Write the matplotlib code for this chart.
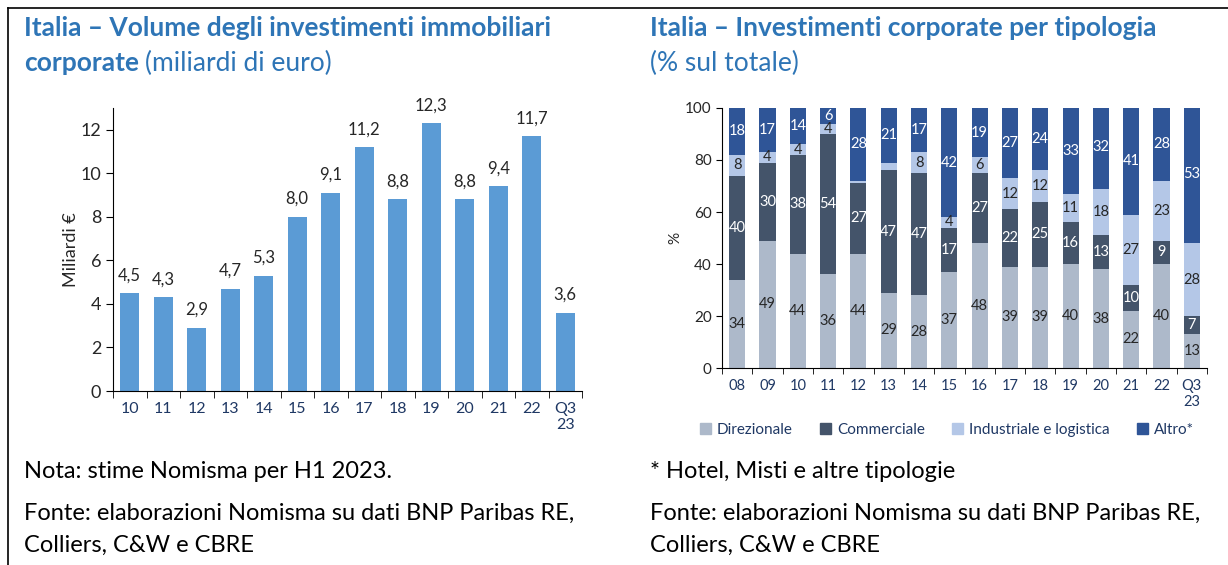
import matplotlib.pyplot as plt
import numpy as np
from matplotlib.patches import Patch
from matplotlib.lines import Line2D

plt.rcParams['font.family'] = ['Lato', 'DejaVu Sans']

# left chart data
anni_vol = ["10", "11", "12", "13", "14", "15", "16", "17", "18", "19", "20", "21", "22", "Q3\n23"]
volume = [4.5, 4.3, 2.9, 4.7, 5.3, 8.0, 9.1, 11.2, 8.8, 12.3, 8.8, 9.4, 11.7, 3.6]

# right chart data (% sul totale)
anni_tip = ["08", "09", "10", "11", "12", "13", "14", "15", "16", "17", "18", "19", "20", "21", "22", "Q3\n23"]
direzionale = [34, 49, 44, 36, 44, 29, 28, 37, 48, 39, 39, 40, 38, 22, 40, 13]
commerciale = [40, 30, 38, 54, 27, 47, 47, 17, 27, 22, 25, 16, 13, 10, 9, 7]
industriale = [8, 4, 4, 4, 1, 3, 8, 4, 6, 12, 12, 11, 18, 27, 23, 28]
altro = [18, 17, 14, 6, 28, 21, 17, 42, 19, 27, 24, 33, 32, 41, 28, 53]
serie_nomi = ["Direzionale", "Commerciale", "Industriale e logistica", "Altro*"]
serie_colori = ["#adb9ca", "#44546a", "#b4c7e7", "#2f5597"]
label_colori = ["#262626", "white", "#262626", "white"]

blu_titolo = "#2e75b6"
tick_col = "#1f3864"

fig = plt.figure(figsize=(12.28, 5.65), dpi=100)

# frame lines (left and top)
fig.add_artist(Line2D([8/1228, 8/1228], [0, 1 - 8/565], color="black", lw=1.2))
fig.add_artist(Line2D([8/1228, 1], [1 - 8/565, 1 - 8/565], color="black", lw=1.2))

# titles
fs_tit = 19
fig.text(24/1228, 1 - 28/565, "Italia – Volume degli investimenti immobiliari", color=blu_titolo,
         fontsize=fs_tit, fontweight="bold", va="center")
t = fig.text(24/1228, 1 - 63/565, "corporate", color=blu_titolo, fontsize=fs_tit, fontweight="bold", va="center")
fig.canvas.draw()
bb = t.get_window_extent()
fig.text(bb.x1/1228 + 0.005, 1 - 63/565, "(miliardi di euro)", color=blu_titolo, fontsize=fs_tit, va="center")

fig.text(650/1228, 1 - 28/565, "Italia – Investimenti corporate per tipologia", color=blu_titolo,
         fontsize=fs_tit, fontweight="bold", va="center")
fig.text(650/1228, 1 - 63/565, "(% sul totale)", color=blu_titolo, fontsize=fs_tit, va="center")

# notes
fs_n = 17
fig.text(24/1228, 1 - 472/565, "Nota: stime Nomisma per H1 2023.", fontsize=fs_n, va="center")
fig.text(24/1228, 1 - 513/565, "Fonte: elaborazioni Nomisma su dati BNP Paribas RE,", fontsize=fs_n, va="center")
fig.text(24/1228, 1 - 545/565, "Colliers, C&W e CBRE", fontsize=fs_n, va="center")
fig.text(650/1228, 1 - 472/565, "* Hotel, Misti e altre tipologie", fontsize=fs_n, va="center")
fig.text(650/1228, 1 - 513/565, "Fonte: elaborazioni Nomisma su dati BNP Paribas RE,", fontsize=fs_n, va="center")
fig.text(650/1228, 1 - 545/565, "Colliers, C&W e CBRE", fontsize=fs_n, va="center")

# left chart
ax1 = fig.add_axes([113/1228, 1 - 391/565, 469/1228, 283/565])
x1 = np.arange(len(volume))
ax1.bar(x1, volume, width=0.57, color="#5b9bd5")
for xi, v in zip(x1, volume):
    ax1.text(xi, v + 0.45, f"{v:.1f}".replace(".", ","), ha="center", va="bottom", fontsize=12, color="#262626")
ax1.set_xlim(-0.5, len(volume) - 0.5)
ax1.set_ylim(0, 13)
ax1.set_yticks([0, 2, 4, 6, 8, 10, 12])
ax1.set_xticks(x1)
ax1.set_xticklabels(anni_vol)
ax1.set_xticks(np.arange(-0.5, len(volume)), minor=True)
ax1.tick_params(axis="x", which="major", length=0, pad=8, labelsize=11.5, labelcolor=tick_col)
ax1.tick_params(axis="x", which="minor", length=5, direction="out")
ax1.tick_params(axis="y", length=5, labelsize=13, labelcolor="#262626")
ax1.set_ylabel("Miliardi €", fontsize=13, color="#262626", labelpad=1)
for s in ["top", "right"]:
    ax1.spines[s].set_visible(False)

# right chart
ax2 = fig.add_axes([722/1228, 1 - 368/565, 485/1228, 260/565])
x2 = np.arange(len(anni_tip))
bottom = np.zeros(len(anni_tip))
for vals, nome, col, lc in zip([direzionale, commerciale, industriale, altro], serie_nomi, serie_colori, label_colori):
    vals = np.array(vals)
    ax2.bar(x2, vals, bottom=bottom, width=0.53, color=col, label=nome)
    for xi, b, v in zip(x2, bottom, vals):
        if v >= 4:
            ax2.text(xi, b + v / 2, str(v), ha="center", va="center", fontsize=10.5, color=lc)
    bottom = bottom + vals
ax2.set_xlim(-0.5, len(anni_tip) - 0.5)
ax2.set_ylim(0, 100)
ax2.set_yticks([0, 20, 40, 60, 80, 100])
ax2.set_xticks(x2)
ax2.set_xticklabels(anni_tip)
ax2.set_xticks(np.arange(-0.5, len(anni_tip)), minor=True)
ax2.tick_params(axis="x", which="major", length=0, pad=8, labelsize=10.5, labelcolor=tick_col)
ax2.tick_params(axis="x", which="minor", length=4, direction="out")
ax2.tick_params(axis="y", length=4, labelsize=11, labelcolor="#262626")
ax2.set_ylabel("%", fontsize=11, color="#262626", labelpad=2)
for s in ["top", "right"]:
    ax2.spines[s].set_visible(False)

handles = [Patch(color=c) for c in serie_colori]
fig.legend(handles, serie_nomi, loc="center", bbox_to_anchor=(947/1228, 1 - 430/565), ncol=4,
           frameon=False, fontsize=11, handlelength=0.7, handleheight=0.7, columnspacing=1.8,
           handletextpad=0.4, labelcolor=tick_col)

fig.savefig("out.png", dpi=100)
